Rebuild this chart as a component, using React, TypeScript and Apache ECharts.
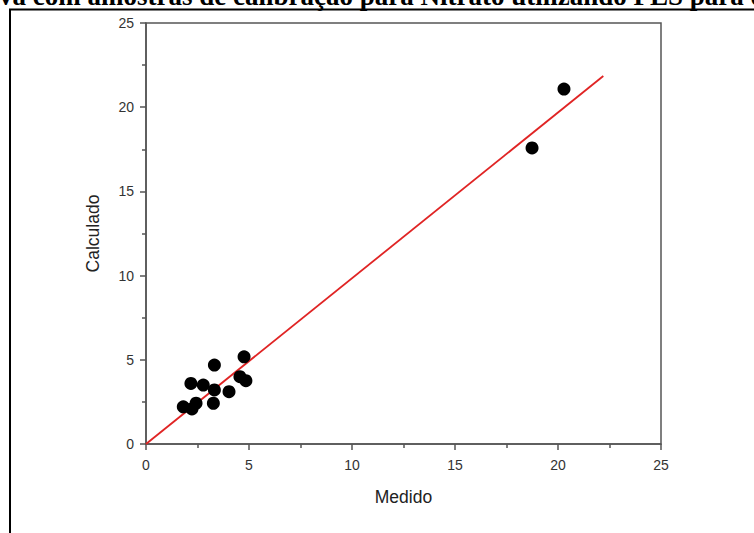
import React, { useEffect, useRef } from "react";
import * as echarts from "echarts";

const titleText = "va com amostras de calibração para Nitrato utilizando PLS para o";
const xAxisName = "Medido";
const yAxisName = "Calculado";

const medido = [1.81, 2.23, 2.43, 2.18, 2.78, 3.32, 3.32, 3.27, 4.03, 4.56, 4.85, 4.76, 18.74, 20.29];
const calculado = [2.21, 2.08, 2.42, 3.6, 3.5, 4.69, 3.21, 2.42, 3.11, 4.0, 3.76, 5.18, 17.58, 21.08];

const fitLineX = [0, 22.2];
const fitLineY = [0, 21.85];

const axisMin = 0;
const axisMax = 25;
const axisInterval = 5;

export default function App() {
  const ref = useRef<HTMLDivElement>(null);
  useEffect(() => {
    if (!ref.current) return;
    const chart = echarts.init(ref.current, undefined, { renderer: "svg" });
    const axisColor = "#555";
    const labelStyle = { color: "#333", fontSize: 14, fontFamily: "Liberation Sans, Arial, sans-serif" };
    const commonAxis = {
      type: "value" as const,
      min: axisMin,
      max: axisMax,
      interval: axisInterval,
      axisLine: { show: true, onZero: false, lineStyle: { color: axisColor, width: 1.5 } },
      axisTick: { show: true, inside: false, length: 6, lineStyle: { color: axisColor, width: 1.5 } },
      minorTick: { show: true, splitNumber: 2, length: 4, lineStyle: { color: axisColor, width: 1.5 } },
      splitLine: { show: false },
      nameLocation: "middle" as const,
      nameTextStyle: { color: "#222", fontSize: 17.5, fontFamily: "Liberation Sans, Arial, sans-serif" },
    };
    chart.setOption({
      animation: false,
      backgroundColor: "#fff",
      grid: {
        left: 146,
        right: 93,
        top: 23,
        bottom: 89,
        show: true,
        borderColor: axisColor,
        borderWidth: 1.5,
      },
      xAxis: { ...commonAxis, name: xAxisName, nameGap: 44, axisLabel: { ...labelStyle, margin: 14 } },
      yAxis: { ...commonAxis, name: yAxisName, nameGap: 44, axisLabel: { ...labelStyle, margin: 12 } },
      graphic: [
        {
          type: "text",
          x: -1,
          y: 9,
          style: {
            text: titleText,
            font: "bold 27px 'Liberation Serif', 'Times New Roman', serif",
            fill: "#000",
            verticalAlign: "bottom",
          },
        },
        { type: "line", shape: { x1: 9, y1: 9.5, x2: 754, y2: 9.5 }, style: { stroke: "#000", lineWidth: 2 } },
        { type: "line", shape: { x1: 10, y1: 9, x2: 10, y2: 533 }, style: { stroke: "#000", lineWidth: 2 } },
      ],
      series: [
        {
          type: "line",
          data: fitLineX.map((x, i) => [x, fitLineY[i]]),
          showSymbol: false,
          symbol: "none",
          lineStyle: { color: "#e02424", width: 1.8 },
          z: 2,
        },
        {
          type: "scatter",
          data: medido.map((x, i) => [x, calculado[i]]),
          symbol: "circle",
          symbolSize: 13,
          itemStyle: { color: "#000", opacity: 1 },
          z: 3,
        },
      ],
    });
    return () => chart.dispose();
  }, []);
  return <div ref={ref} style={{ position: "fixed", left: 0, top: 0, width: 754, height: 533 }} />;
}
